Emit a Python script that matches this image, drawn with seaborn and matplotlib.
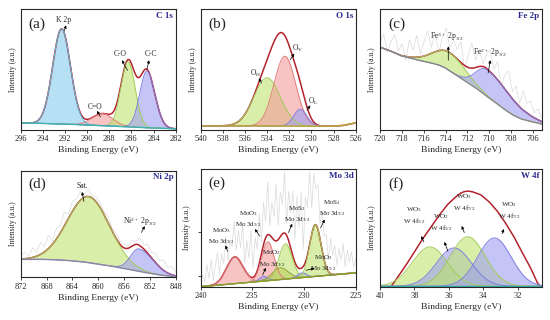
import numpy as np
import matplotlib
matplotlib.use("Agg")
import matplotlib.pyplot as plt
import seaborn as sns

# ---------------- data ----------------
# (a) C 1s : K 2p, C=O, C-O, C-C
a_labels = ["K 2p", "C=O", "C-O", "C-C"]
a_center = [292.3, 288.6, 286.3, 284.6]
a_height = [0.79, 0.10, 0.54, 0.47]
a_fwhm_hi = [1.9, 2.2, 1.5, 1.5]
a_fwhm_lo = [1.9, 2.2, 1.5, 1.7]
a_color = ["blue", "pink", "green", "purple"]
a_base_x = [296, 293, 290, 287, 284, 282]
a_base_y = [0.055, 0.048, 0.038, 0.025, 0.012, 0.006]

# (b) O 1s : O_H, O_V, O_L
b_labels = ["O$_H$", "O$_V$", "O$_L$"]
b_center = [534.0, 532.4, 531.0]
b_height = [0.40, 0.58, 0.14]
b_fwhm_hi = [2.8, 2.3, 1.4]
b_fwhm_lo = [2.8, 2.3, 1.4]
b_color = ["green", "pink", "purple"]
b_base_x = [540, 536, 532, 528, 527, 526]
b_base_y = [0.03, 0.03, 0.028, 0.027, 0.035, 0.055]

# (c) Fe 2p : Fe3+, Fe2+
c_labels = ["Fe$^{3+}$ 2p$_{3/2}$", "Fe$^{2+}$ 2p$_{3/2}$"]
c_center = [713.6, 710.2]
c_height = [0.15, 0.22]
c_fwhm_hi = [3.6, 2.4]
c_fwhm_lo = [3.4, 5.4]
c_color = ["green", "purple"]
c_base_x = [720, 719, 718, 717, 716, 715, 714.5, 714, 713, 712, 711, 710,
            709.3, 708.5, 707.8, 707, 706.6, 706, 705.4, 705]
c_base_y = [0.683, 0.65, 0.61, 0.587, 0.565, 0.545, 0.531, 0.51, 0.449, 0.39,
            0.33, 0.26, 0.215, 0.16, 0.118, 0.085, 0.077, 0.062, 0.05, 0.04]
c_noise = [0.04, 0.12, -0.02, 0.08, 0.15, 0.03, 0.10, -0.03, 0.14, 0.06, 0.18,
           0.02, 0.12, 0.20, 0.05, 0.16, -0.02, 0.11, 0.19, 0.04, 0.13, 0.08,
           0.17, -0.03, 0.10, 0.21, 0.06, 0.14, 0.02, 0.12, 0.18, 0.05, 0.15,
           -0.02, 0.12, 0.19, 0.06, 0.14, 0.03, 0.16, 0.08, 0.12, 0.04, 0.09, 0.03]

# (d) Ni 2p : satellite, Ni2+
d_labels = ["Sat.", "Ni$^{2+}$ 2p$_{3/2}$"]
d_center = [861.5, 853.7]
d_height = [0.62, 0.21]
d_fwhm_hi = [7.7, 3.0]
d_fwhm_lo = [7.7, 5.2]
d_color = ["green", "purple"]
d_base_x = [872, 868, 866, 864, 862, 860, 858, 856, 854, 852, 850, 848]
d_base_y = [0.168, 0.168, 0.163, 0.155, 0.142, 0.124, 0.105, 0.084, 0.06,
            0.037, 0.018, 0.006]
d_noise = [0.03, 0.06, 0.02, 0.09, 0.04, 0.11, 0.05, 0.12, 0.03, 0.10, 0.07,
           0.13, 0.04, 0.09, 0.06, 0.08, 0.03, 0.07, 0.02, 0.05, 0.04, 0.03,
           0.06, 0.02, 0.05, 0.03, 0.04, 0.02, 0.06, 0.03, 0.07, 0.04, 0.08,
           0.05, 0.09, 0.06, 0.10, 0.05, 0.08, 0.04]

# (e) Mo 3d
e_labels = ["MoO$_3$\nMo 3d$_{3/2}$", "MoO$_3$\nMo 3d$_{5/2}$", "MoO$_2$\nMo 3d$_{3/2}$",
            "", "MoS$_2$\nMo 3d$_{3/2}$", "MoO$_2$\nMo 3d$_{5/2}$", "MoS$_2$\nMo 3d$_{5/2}$"]
e_center = [236.7, 233.5, 233.9, 232.3, 231.8, 230.2, 228.9]
e_height = [0.227, 0.33, 0.04, 0.10, 0.30, 0.04, 0.44]
e_fwhm_hi = [1.9, 1.4, 0.9, 1.8, 1.5, 1.0, 1.3]
e_fwhm_lo = [1.9, 1.4, 0.9, 1.8, 1.5, 1.0, 1.3]
e_color = ["pink", "pink", "purple", "olive", "green", "purple", "green"]
e_base_x = [240, 225]
e_base_y = [0.0, 0.118]
e_noise = [0.02, 0.10, 0.04, 0.18, 0.06, 0.22, 0.03, 0.15, 0.25, 0.05, 0.20, 0.08, 0.28, 0.04, 0.18,
           0.10, 0.30, 0.06, 0.24, 0.12, 0.35, 0.05, 0.28, 0.15, 0.40, 0.08, 0.32, 0.18, 0.42, 0.10,
           0.36, 0.14, 0.45, 0.08, 0.30, 0.20, 0.48, 0.12, 0.38, 0.25, 0.52, 0.10, 0.42, 0.30, 0.55,
           0.20, 0.60, 0.35, 0.65, 0.15, 0.55, 0.40, 0.62, 0.22, 0.45, 0.30, 0.38, 0.12, 0.34, 0.20,
           0.28, 0.10, 0.30, 0.16, 0.25, 0.08, 0.22, 0.12, 0.26, 0.06, 0.20, 0.10, 0.18, 0.05, 0.12]

# (f) W 4f
f_labels = ["WO$_3$\nW 4f$_{5/2}$", "WO$_2$\nW 4f$_{5/2}$", "WO$_3$\nW 4f$_{7/2}$", "WO$_2$\nW 4f$_{7/2}$"]
f_center = [37.1, 35.7, 34.9, 33.35]
f_height = [0.334, 0.325, 0.42, 0.41]
f_fwhm_hi = [2.4, 2.4, 2.4, 2.3]
f_fwhm_lo = [2.4, 2.4, 2.4, 2.3]
f_color = ["green", "purple", "green", "purple"]
f_base_x = [40, 30.6]
f_base_y = [0.004, 0.004]
f_env_x = [39.33, 38.94, 38.46, 37.98, 37.5, 37.02, 36.54, 36.06, 35.58, 35.3, 35.1,
           34.85, 34.6, 34.13, 33.65, 33.17, 32.7, 32.2, 31.73, 31.25, 30.87, 30.73]
f_env_y = [0.006, 0.087, 0.19, 0.30, 0.41, 0.51, 0.61, 0.70, 0.765, 0.795, 0.808,
           0.812, 0.805, 0.78, 0.72, 0.64, 0.54, 0.42, 0.29, 0.16, 0.04, 0.006]

# ---------------- style ----------------
sns.set_style("ticks")
plt.rcParams["font.family"] = ["Liberation Serif", "DejaVu Serif"]
plt.rcParams["mathtext.default"] = "regular"
plt.rcParams["axes.linewidth"] = 0.8

fills = {"blue": "#86cdef", "pink": "#f39c9c", "green": "#bfe470",
         "purple": "#9e9ef2", "olive": "#b3b84e"}
edges = {"blue": "#5fbce2", "pink": "#e27c7c", "green": "#a3cc5a",
         "purple": "#7d7de2", "olive": "#979d36"}
ENV = "#b3232c"
NAVY = "#2b2b8f"


def peak(x, c, h, w_hi, w_lo):
    s = np.where(x >= c, w_hi, w_lo) / 2.3548
    return h * np.exp(-0.5 * ((x - c) / s) ** 2)


def model(x, base_x, base_y, center, height, w_hi, w_lo):
    base = np.interp(x, base_x[::-1], base_y[::-1])
    comps = [peak(x, c, h, a, b) for c, h, a, b in zip(center, height, w_hi, w_lo)]
    return base, comps


def panel(ax, xlim, ticks, base_x, base_y, center, height, w_hi, w_lo, colors,
          base_color, noise=None, env_x=None, env_y=None):
    x = np.linspace(xlim[0], xlim[1], 900)
    base, comps = model(x, base_x, base_y, center, height, w_hi, w_lo)
    if noise is not None:
        rx = np.linspace(xlim[0], xlim[1], len(noise))
        rb, rc = model(rx, base_x, base_y, center, height, w_hi, w_lo)
        sns.lineplot(x=rx, y=rb + sum(rc) + np.array(noise), ax=ax,
                     color="#dadada", lw=0.5)
    if env_x is None:
        sns.lineplot(x=x, y=base + sum(comps), ax=ax, color=ENV, lw=1.1)
    else:
        sns.lineplot(x=env_x, y=env_y, ax=ax, color=ENV, lw=1.1)
    for comp, col in zip(comps, colors):
        ax.fill_between(x, base, base + comp, color=fills[col], alpha=0.6, lw=0)
        sns.lineplot(x=x, y=base + comp, ax=ax, color=edges[col], lw=0.7)
    sns.lineplot(x=x, y=base, ax=ax, color=base_color, lw=1.0)
    ax.set_xlim(xlim)
    ax.set_ylim(0, 1)
    ax.set_xticks(ticks)
    ax.set_yticks([])
    ax.tick_params(axis="both", labelsize=6, length=2.5, width=0.6, pad=1.5)
    ax.set_xlabel("Binding Energy (eV)", fontsize=6.8, labelpad=2)
    ax.set_ylabel("Intensity (a.u.)", fontsize=5.5, labelpad=3)


def tag(ax, letter, title):
    ax.text(0.05, 0.875, letter, transform=ax.transAxes, fontsize=11,
            ha="left", va="center")
    ax.text(0.985, 0.975, title, transform=ax.transAxes, fontsize=6.5,
            fontweight="bold", color=NAVY, ha="right", va="top")


def note(ax, text, tx, ty, head=None, tail=None, size=5.5):
    ax.text(tx, ty, text, fontsize=size, ha="center", va="center", linespacing=1.4)
    if head is not None:
        ax.annotate("", xy=head, xytext=tail,
                    arrowprops=dict(arrowstyle="-|>", lw=0.5, color="k",
                                    mutation_scale=4, shrinkA=0, shrinkB=0))


fig = plt.figure(figsize=(5.5, 3.2), dpi=100)
ax_a = fig.add_axes([0.0376, 0.5953, 0.2818, 0.3766])
ax_b = fig.add_axes([0.3649, 0.5953, 0.2818, 0.3766])
ax_c = fig.add_axes([0.6909, 0.5953, 0.2940, 0.3766])
ax_d = fig.add_axes([0.0376, 0.1334, 0.2818, 0.3334])
ax_e = fig.add_axes([0.3649, 0.1041, 0.2818, 0.3678])
ax_f = fig.add_axes([0.6909, 0.1041, 0.2940, 0.3678])

# (a)
panel(ax_a, (296, 282), range(296, 281, -2), a_base_x, a_base_y, a_center,
      a_height, a_fwhm_hi, a_fwhm_lo, a_color, "#3cb3b3")
tag(ax_a, "(a)", "C 1s")
note(ax_a, a_labels[0], 292.1, 0.905, (291.9, 0.865), (292.05, 0.82))
note(ax_a, a_labels[1], 289.3, 0.19, (289.1, 0.155), (288.8, 0.105))
note(ax_a, a_labels[2], 287.0, 0.625, (286.85, 0.575), (286.35, 0.49))
note(ax_a, a_labels[3], 284.2, 0.625, (284.4, 0.575), (284.6, 0.50))

# (b)
panel(ax_b, (540, 526), range(540, 525, -2), b_base_x, b_base_y, b_center,
      b_height, b_fwhm_hi, b_fwhm_lo, b_color, "#bda52c")
tag(ax_b, "(b)", "O 1s")
note(ax_b, b_labels[0], 535.0, 0.465, (534.75, 0.425), (534.5, 0.385))
note(ax_b, b_labels[1], 531.2, 0.67, (531.55, 0.63), (531.9, 0.58))
note(ax_b, b_labels[2], 529.8, 0.235, (530.1, 0.20), (530.4, 0.16))

# (c)
panel(ax_c, (720, 705.2), range(720, 705, -2), c_base_x, c_base_y, c_center,
      c_height, c_fwhm_hi, c_fwhm_lo, c_color, "#8a8a8a", noise=c_noise)
tag(ax_c, "(c)", "Fe 2p")
note(ax_c, c_labels[0], 713.9, 0.77, (713.75, 0.69), (713.75, 0.575))
note(ax_c, c_labels[1], 709.9, 0.64, (709.9, 0.575), (710.1, 0.47))

# (d)
panel(ax_d, (872, 848), range(872, 847, -4), d_base_x, d_base_y, d_center,
      d_height, d_fwhm_hi, d_fwhm_lo, d_color, "#8c84a6", noise=d_noise)
tag(ax_d, "(d)", "Ni 2p")
note(ax_d, d_labels[0], 862.4, 0.86, (862.5, 0.80), (862.2, 0.71))
note(ax_d, d_labels[1], 853.6, 0.525, (852.8, 0.48), (853.3, 0.42))

# (e)
panel(ax_e, (240, 225), [240, 235, 230, 225], e_base_x, e_base_y, e_center,
      e_height, e_fwhm_hi, e_fwhm_lo, e_color, "#8a9a22", noise=e_noise)
ax_e.set_yticks([0.09, 0.462, 0.834])
ax_e.set_yticklabels([])
tag(ax_e, "(e)", "Mo 3d")
note(ax_e, e_labels[0], 238.0, 0.43, (237.6, 0.35), (237.4, 0.30), size=5)
note(ax_e, e_labels[1], 235.4, 0.575, (234.75, 0.49), (234.3, 0.43), size=5)
note(ax_e, e_labels[2], 233.1, 0.24, (233.7, 0.16), (234.0, 0.10), size=5)
note(ax_e, e_labels[4], 230.7, 0.62, (231.15, 0.535), (231.5, 0.46), size=5)
note(ax_e, e_labels[5], 228.1, 0.20, (229.0, 0.155), (229.8, 0.14), size=5)
note(ax_e, e_labels[6], 227.3, 0.67, (228.0, 0.57), (228.4, 0.50), size=5)

# (f)
panel(ax_f, (40, 30.6), range(40, 31, -2), f_base_x, f_base_y, f_center,
      f_height, f_fwhm_hi, f_fwhm_lo, f_color, "#3aa6a6",
      env_x=f_env_x, env_y=f_env_y)
tag(ax_f, "(f)", "W 4f")
note(ax_f, f_labels[0], 38.0, 0.605, (37.6, 0.43), (37.45, 0.38), size=5.1)
note(ax_f, f_labels[1], 36.45, 0.545, (36.25, 0.38), (36.05, 0.30), size=5.1)
note(ax_f, f_labels[2], 35.1, 0.715, (35.25, 0.515), (35.1, 0.46), size=5.1)
note(ax_f, f_labels[3], 32.5, 0.647, (32.8, 0.49), (32.9, 0.45), size=5.1)

fig.savefig("out.png", dpi=100)
